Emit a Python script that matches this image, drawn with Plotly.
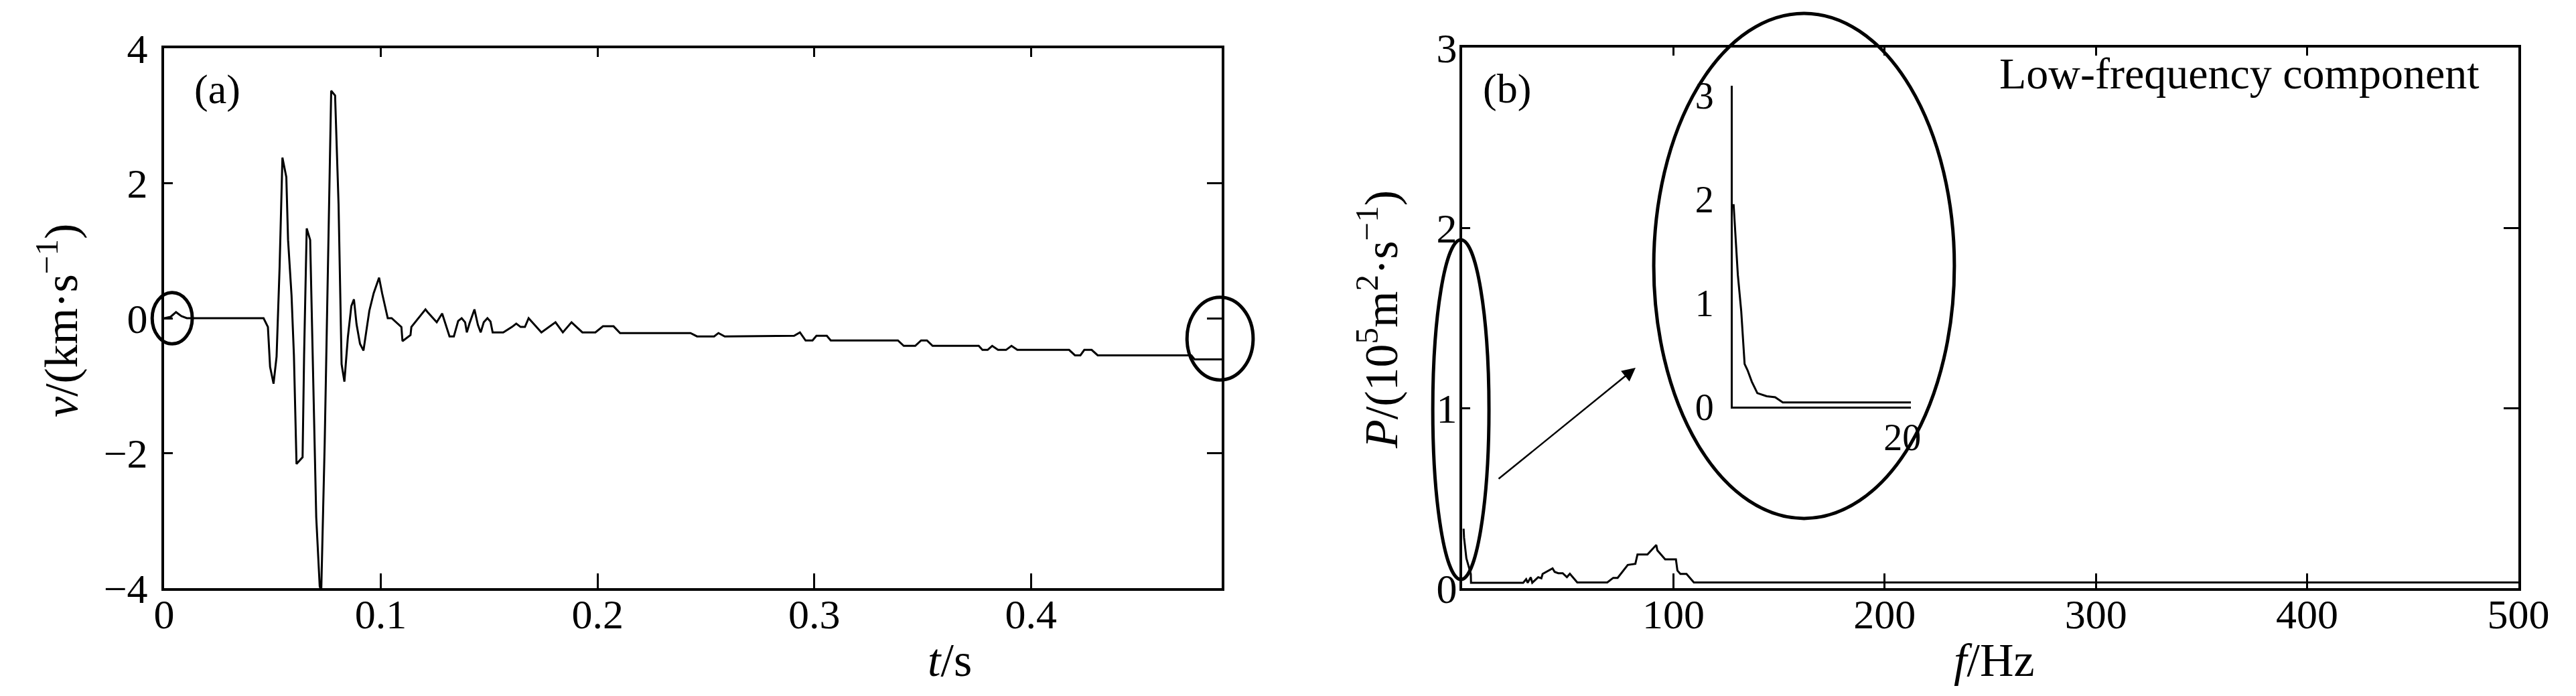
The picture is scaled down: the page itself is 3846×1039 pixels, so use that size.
import plotly.graph_objects as go

# ---------------- data ----------------
# panel (a): velocity record
t_s = [0.0, 0.0030, 0.0055, 0.0080, 0.0105, 0.0459, 0.0479, 0.0489, 0.0505, 0.0519,
       0.0533, 0.0546, 0.0564, 0.0572, 0.0588, 0.0599, 0.0611, 0.0639, 0.0646, 0.0658,
       0.0674, 0.0686, 0.0702, 0.0718, 0.0725, 0.0741, 0.0757, 0.0771, 0.0789, 0.0805,
       0.0819, 0.0832, 0.0848, 0.0864, 0.0876, 0.0888, 0.0904, 0.0920, 0.0935, 0.0947,
       0.0967, 0.0992, 0.1006, 0.1032, 0.1050, 0.1095, 0.1100, 0.1137, 0.1141, 0.1206,
       0.1216, 0.1258, 0.1283, 0.1317, 0.1337, 0.1357, 0.1373, 0.1389, 0.1397, 0.1409,
       0.1432, 0.1448, 0.1461, 0.1475, 0.1492, 0.1506, 0.1516, 0.1565, 0.1605, 0.1625,
       0.1645, 0.1665, 0.1682, 0.1741, 0.1806, 0.1840, 0.1880, 0.1930, 0.1990, 0.2025,
       0.2074, 0.2104, 0.2429, 0.2459, 0.2538, 0.2558, 0.2587, 0.2907, 0.2934, 0.2960,
       0.2992, 0.3010, 0.3058, 0.3076, 0.3386, 0.3413, 0.3466, 0.3493, 0.3520, 0.3546,
       0.3759, 0.3776, 0.3800, 0.3821, 0.3848, 0.3885, 0.3910, 0.3937, 0.4176, 0.4203,
       0.4228, 0.4246, 0.4280, 0.4308, 0.4740, 0.4755, 0.4880]
v_kms = [0.0, 0.02, 0.09, 0.03, 0.0, 0.0, -0.13, -0.72, -0.97, -0.57,
         0.76, 2.38, 2.09, 1.16, 0.34, -0.55, -2.16, -2.06, -0.55, 1.33,
         1.16, -0.55, -2.95, -3.97, -4.05, -1.86, 1.03, 3.37, 3.30, 1.69,
         -0.68, -0.94, -0.28, 0.18, 0.28, -0.09, -0.38, -0.48, -0.15, 0.11,
         0.37, 0.60, 0.37, 0.0, 0.0, -0.13, -0.34, -0.25, -0.13, 0.13,
         0.09, -0.06, 0.07, -0.27, -0.27, -0.04, 0.0, -0.06, -0.21, -0.08,
         0.13, -0.10, -0.21, -0.06, 0.0, -0.05, -0.21, -0.21, -0.13, -0.08,
         -0.13, -0.13, 0.0, -0.21, -0.06, -0.21, -0.06, -0.21, -0.21, -0.12,
         -0.12, -0.22, -0.22, -0.27, -0.27, -0.22, -0.27, -0.26, -0.21, -0.33,
         -0.33, -0.26, -0.26, -0.33, -0.33, -0.41, -0.41, -0.33, -0.33, -0.41,
         -0.41, -0.47, -0.47, -0.41, -0.47, -0.47, -0.41, -0.47, -0.47, -0.55,
         -0.55, -0.47, -0.47, -0.55, -0.55, -0.61, -0.61]

# panel (b): power spectrum
f_hz = [0.7, 0.9, 2.0, 4.1, 4.2, 28.9, 30.3, 31.0, 32.5, 33.2, 36.0, 37.5, 38.1,
        42.8, 43.8, 45.5, 47.6, 49.6, 51.0, 54.5, 68.7, 71.5, 73.6, 78.4, 82.0,
        83.0, 87.7, 91.9, 92.4, 96.1, 101.2, 101.9, 103.3, 106.2, 109.7, 502.0]
p_val = [0.33, 0.28, 0.166, 0.079, 0.03, 0.03, 0.05, 0.03, 0.06, 0.03, 0.061, 0.055, 0.079,
         0.11, 0.09, 0.083, 0.083, 0.061, 0.08, 0.032, 0.032, 0.057, 0.057, 0.129, 0.135,
         0.187, 0.187, 0.24, 0.21, 0.16, 0.16, 0.098, 0.079, 0.079, 0.032, 0.032]

# inset: low-frequency component
f_inset = [0.1, 0.25, 0.6, 1.0, 1.4, 1.75, 2.25, 2.9, 4.0, 5.0, 5.9, 21.0]
p_inset = [1.95, 1.74, 1.27, 0.92, 0.41, 0.35, 0.24, 0.13, 0.10, 0.09, 0.04, 0.04]

a_xticks = [0, 0.1, 0.2, 0.3, 0.4]
a_xticktext = ["0", "0.1", "0.2", "0.3", "0.4"]
a_yticks = [-4, -2, 0, 2, 4]
b_xticks = [100, 200, 300, 400, 500]
b_xticktext = ["100", "200", "300", "400", "500"]
b_yticks = [0, 1, 2, 3]
ins_xticks = [20]
ins_yticks = [0, 1, 2, 3]

# ---------------- layout geometry ----------------
W, H = 3846, 1039
A_RX, A_RY = [0, 0.488], [-4, 4]
B_RX, B_RY = [0, 500], [0, 3]
I_RX, I_RY = [0, 21], [0, 3.09]
A_DX, A_DY = [245 / W, 1824 / W], [1 - 878 / H, 1 - 72 / H]
B_DX, B_DY = [2183 / W, 3760 / W], [1 - 878 / H, 1 - 71 / H]
I_DX, I_DY = [2587 / W, 2853 / W], [1 - 607 / H, 1 - 128 / H]

FONT = "Liberation Serif, Times New Roman, serif"
TICKF = dict(family=FONT, size=62, color="black")


def px(v, dom, rng):
    return dom[0] + (v - rng[0]) / (rng[1] - rng[0]) * (dom[1] - dom[0])


fig = go.Figure()
line = dict(color="black", width=3)
fig.add_trace(go.Scatter(x=t_s, y=v_kms, mode="lines", line=line, xaxis="x", yaxis="y",
                         showlegend=False))
fig.add_trace(go.Scatter(x=f_hz, y=p_val, mode="lines", line=line, xaxis="x2", yaxis="y2",
                         showlegend=False))
fig.add_trace(go.Scatter(x=f_inset, y=p_inset, mode="lines", line=line, xaxis="x5", yaxis="y5",
                         showlegend=False))
# empty traces so the mirrored frame axes (top / right) are drawn
fig.add_trace(go.Scatter(x=[], y=[], xaxis="x3", yaxis="y3", showlegend=False, hoverinfo="skip"))
fig.add_trace(go.Scatter(x=[], y=[], xaxis="x4", yaxis="y4", showlegend=False, hoverinfo="skip"))

base = dict(showgrid=False, zeroline=False, showline=True, linecolor="black", linewidth=4,
            ticks="inside", tickcolor="black", tickwidth=3, tickfont=TICKF, fixedrange=True,
            automargin=False)

fig.update_layout(
    template="none",
    width=W, height=H, margin=dict(l=0, r=0, t=0, b=0, pad=0), autosize=False,
    paper_bgcolor="white", plot_bgcolor="white", showlegend=False,
    xaxis=dict(base, domain=A_DX, range=A_RX, anchor="y", tickvals=a_xticks,
               ticktext=a_xticktext, ticklen=22, ticklabelstandoff=-18),
    yaxis=dict(base, domain=A_DY, range=A_RY, anchor="x", tickvals=a_yticks,
               ticklen=13, ticklabelstandoff=8),
    xaxis3=dict(base, domain=A_DX, range=A_RX, anchor="y3", overlaying="x", side="top",
                tickvals=a_xticks, ticklen=13, showticklabels=False),
    yaxis3=dict(base, domain=A_DY, range=A_RY, anchor="x3", overlaying="y", side="right",
                tickvals=a_yticks, ticklen=22, showticklabels=False),
    xaxis2=dict(base, domain=B_DX, range=B_RX, anchor="y2", tickvals=b_xticks,
                ticktext=b_xticktext, ticklen=22, ticklabelstandoff=-18),
    yaxis2=dict(base, domain=B_DY, range=B_RY, anchor="x2", tickvals=b_yticks,
                ticklen=12, ticklabelstandoff=-9),
    xaxis4=dict(base, domain=B_DX, range=B_RX, anchor="y4", overlaying="x2", side="top",
                tickvals=[0] + b_xticks, ticklen=12, showticklabels=False),
    yaxis4=dict(base, domain=B_DY, range=B_RY, anchor="x4", overlaying="y2", side="right",
                tickvals=b_yticks, ticklen=22, showticklabels=False),
    xaxis5=dict(base, domain=I_DX, range=I_RX, anchor="y5", tickvals=ins_xticks, ticks="",
                linewidth=3, tickfont=dict(TICKF, size=56), ticklabelstandoff=-5),
    yaxis5=dict(base, domain=I_DY, range=I_RY, anchor="x5", tickvals=ins_yticks, ticks="",
                linewidth=3, tickfont=dict(TICKF, size=56), ticklabelstandoff=14),
)

# highlighted ellipses (data units, converted to paper so they are not clipped)
ellipses = [
    ("a", [-0.0055, 0.0130], [-0.38, 0.38]),
    ("a", [0.4720, 0.5025], [-0.915, 0.31]),
    ("b", [-13.9, 12.7], [0.048, 1.933]),
    ("b", [90.7, 233.0], [0.387, 3.19]),
]
for panel, ex, ey in ellipses:
    dx, rx, dy, ry = (A_DX, A_RX, A_DY, A_RY) if panel == "a" else (B_DX, B_RX, B_DY, B_RY)
    fig.add_shape(type="circle", xref="paper", yref="paper",
                  x0=px(ex[0], dx, rx), x1=px(ex[1], dx, rx),
                  y0=px(ey[0], dy, ry), y1=px(ey[1], dy, ry),
                  line=dict(color="black", width=5))

# arrow pointing to the zoomed inset
fig.add_annotation(x=82.1, y=1.223, xref="x2", yref="y2", ax=16.8, ay=0.602,
                   axref="x2", ayref="y2", showarrow=True, arrowhead=2, arrowsize=1.6,
                   arrowwidth=2.5, arrowcolor="black", text="")

TXT = dict(family=FONT, color="black")
C = dict(xanchor="center", yanchor="middle", showarrow=False)
fig.add_annotation(x=0.0247, y=3.39, xref="x", yref="y", text="(a)", font=dict(TXT, size=62), **C)
fig.add_annotation(x=21.2, y=2.77, xref="x2", yref="y2", text="(b)", font=dict(TXT, size=62), **C)
fig.add_annotation(x=367.8, y=2.855, xref="x2", yref="y2", text="Low-frequency component",
                   font=dict(TXT, size=66), **C)

# axis titles
fig.add_annotation(x=1418 / W, y=1 - 985 / H, xref="paper", yref="paper",
                   text="<i>t</i>/s", font=dict(TXT, size=70), **C)
fig.add_annotation(x=2977 / W, y=1 - 985 / H, xref="paper", yref="paper",
                   text="<i>f</i>/Hz", font=dict(TXT, size=70), **C)
fig.add_annotation(x=86 / W, y=1 - 479 / H, xref="paper", yref="paper", textangle=-90,
                   text="<i>v</i>/(km·s<sup>−1</sup>)", font=dict(TXT, size=70), **C)
fig.add_annotation(x=2057 / W, y=1 - 477 / H, xref="paper", yref="paper", textangle=-90,
                   text="<i>P</i>/(10<sup>5</sup>m<sup>2</sup>·s<sup>−1</sup>)",
                   font=dict(TXT, size=70), **C)

fig.write_html("out.html", config={"displayModeBar": False},
               post_script="document.body.style.margin='0';")
